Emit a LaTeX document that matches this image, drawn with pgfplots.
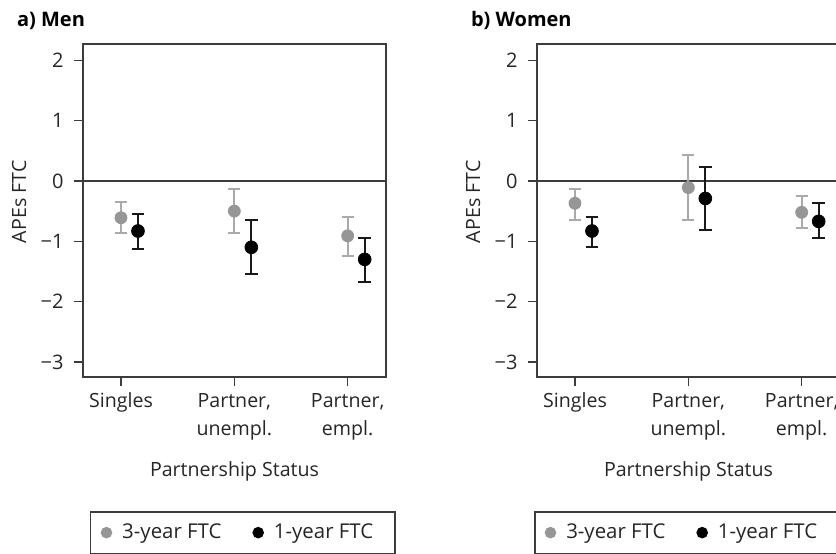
\documentclass[border=0pt]{standalone}
\usepackage{fontspec}
\setmainfont{Open Sans}
\usepackage{pgfplots}
\pgfplotsset{compat=1.18}
\definecolor{axcol}{RGB}{60,60,60}
\definecolor{gmark}{RGB}{150,150,150}
\definecolor{gbar}{RGB}{170,170,170}
\definecolor{bbar}{RGB}{25,25,25}
\pgfplotsset{
  every axis y label/.style={at={(axis description cs:-0.211,0.526)}, rotate=90, anchor=center},
  every axis x label/.style={at={(axis description cs:0.5,0)}, anchor=center, yshift=-47pt},
  panel/.style={
    scale only axis, width=151.5pt, height=166.5pt,
    xmin=0.665, xmax=3.338, ymin=-3.25, ymax=2.27,
    xtick={1,2,3}, xticklabels={Singles, {Partner,\\unempl.}, {Partner,\\empl.}},
    xticklabel style={align=center, font=\fontsize{9.8}{14}\selectfont, text=black!85},
    ytick={-3,-2,-1,0,1,2}, yticklabels={−3,−2,−1,0,1,2},
    yticklabel style={font=\fontsize{10}{11}\selectfont, text=black!85, inner xsep=5pt},
    tick align=outside, xtick pos=bottom, ytick pos=left,
    major tick length=4.5pt,
    every tick/.style={axcol, line width=0.75pt},
    axis line style={axcol, line width=0.75pt},
    extra y ticks={0}, extra y tick labels={},
    extra y tick style={grid=major, major grid style={axcol, line width=0.75pt}},
    xlabel={Partnership Status}, ylabel={APEs FTC},
    label style={font=\fontsize{9.8}{11}\selectfont, text=black!85},
    title style={at={(axis description cs:0,1)}, anchor=base west, xshift=-36.5pt, yshift=3pt, font=\fontsize{10}{11}\bfseries\selectfont},
    clip=false,
    legend columns=2,
    legend style={at={(0,0)}, anchor=north west, xshift=3.5pt, yshift=-67pt,
      draw=axcol, line width=0.75pt, font=\fontsize{10.2}{12}\selectfont, text=black!85,
      inner xsep=5pt, inner ysep=4pt,
      /tikz/every even column/.append style={column sep=13.5pt}},
    legend cell align=left,
  },
  gser/.style={only marks, mark=*, mark size=3pt, mark options={fill=gmark, draw=gmark},
    legend image code/.code={\fill[gmark] (0,0) circle (2.5pt);},
    error bars/.cd, y dir=both, y explicit,
    error bar style={gbar, line width=1pt},
    error mark options={gbar, line width=1pt, mark size=3pt, rotate=90},
    /pgfplots/.cd},
  bser/.style={only marks, mark=*, mark size=3.2pt, mark options={fill=black, draw=black},
    legend image code/.code={\fill[black] (0,0) circle (2.5pt);},
    error bars/.cd, y dir=both, y explicit,
    error bar style={bbar, line width=1pt},
    error mark options={bbar, line width=1pt, mark size=3.2pt, rotate=90},
    /pgfplots/.cd},
}
\begin{document}
\begin{tikzpicture}
\begin{axis}[panel, title={a) Men}]
\addplot[gser] coordinates {
  (1,-0.61) += (0,0.26) -= (0,0.25)
  (2,-0.50) += (0,0.36) -= (0,0.37)
  (3,-0.91) += (0,0.32) -= (0,0.33)
};
\addlegendentry{\hspace*{3pt}3-year FTC}
\addplot[bser] coordinates {
  (1.15,-0.83) += (0,0.28) -= (0,0.30)
  (2.15,-1.10) += (0,0.45) -= (0,0.45)
  (3.15,-1.30) += (0,0.35) -= (0,0.37)
};
\addlegendentry{\hspace*{3pt}1-year FTC\hspace*{4pt}}
\end{axis}
\begin{axis}[panel, title={b) Women}, at={(227pt,0)}, legend style={xshift=-5pt}]
\addplot[gser] coordinates {
  (1,-0.37) += (0,0.24) -= (0,0.27)
  (2,-0.11) += (0,0.54) -= (0,0.53)
  (3,-0.52) += (0,0.27) -= (0,0.26)
};
\addlegendentry{\hspace*{3pt}3-year FTC}
\addplot[bser] coordinates {
  (1.15,-0.83) += (0,0.24) -= (0,0.27)
  (2.15,-0.29) += (0,0.52) -= (0,0.53)
  (3.15,-0.67) += (0,0.30) -= (0,0.28)
};
\addlegendentry{\hspace*{3pt}1-year FTC\hspace*{4pt}}
\end{axis}
\pgfresetboundingbox
\useasboundingbox (-41.5pt,-88pt) rectangle (376.5pt,188.5pt);
\end{tikzpicture}
\end{document}
